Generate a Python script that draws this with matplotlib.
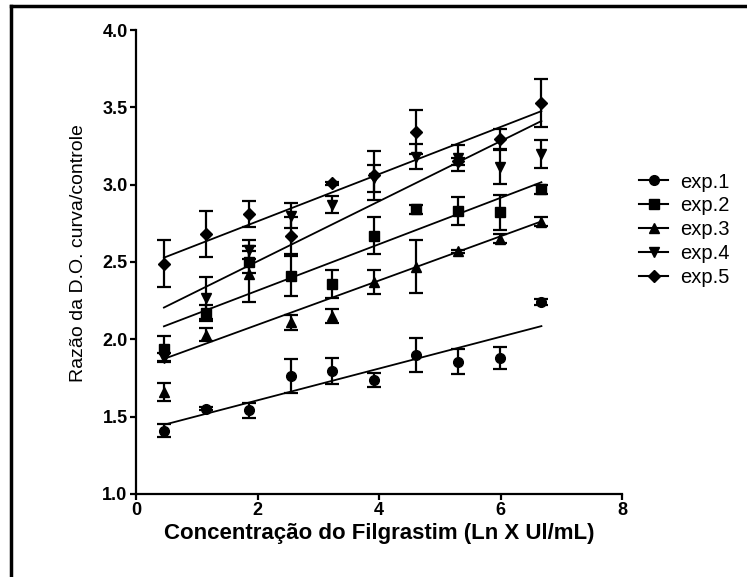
import numpy as np
import matplotlib
matplotlib.use('Agg')
import matplotlib.pyplot as plt
from matplotlib.lines import Line2D

# Ln of the filgrastim concentration
x_conc = [0.46, 1.15, 1.86, 2.55, 3.23, 3.92, 4.61, 5.30, 5.99, 6.67]

labels = ['exp.1', 'exp.2', 'exp.3', 'exp.4', 'exp.5']
markers = ['o', 's', '^', 'v', 'D']

exp1 = [1.41, 1.55, 1.54, 1.765, 1.795, 1.735, 1.90, 1.855, 1.88, 2.24]
exp1_err = [0.04, 0.01, 0.05, 0.11, 0.085, 0.045, 0.11, 0.08, 0.07, 0.02]
exp2 = [1.94, 2.17, 2.50, 2.41, 2.36, 2.67, 2.84, 2.83, 2.82, 2.97]
exp2_err = [0.08, 0.05, 0.07, 0.13, 0.09, 0.12, 0.03, 0.09, 0.115, 0.03]
exp3 = [1.66, 2.03, 2.42, 2.11, 2.15, 2.37, 2.47, 2.57, 2.65, 2.76]
exp3_err = [0.06, 0.04, 0.18, 0.05, 0.045, 0.08, 0.17, 0.01, 0.03, 0.03]
exp4 = [1.88, 2.265, 2.58, 2.80, 2.87, 3.04, 3.18, 3.17, 3.115, 3.20]
exp4_err = [0.03, 0.135, 0.06, 0.08, 0.055, 0.09, 0.08, 0.085, 0.11, 0.09]
exp5 = [2.49, 2.68, 2.81, 2.67, 3.01, 3.06, 3.34, 3.15, 3.295, 3.525]
exp5_err = [0.155, 0.15, 0.085, 0.12, 0.01, 0.16, 0.14, 0.02, 0.065, 0.155]

series = [exp1, exp2, exp3, exp4, exp5]
errors = [exp1_err, exp2_err, exp3_err, exp4_err, exp5_err]

plt.rcParams['font.family'] = ['Liberation Sans', 'DejaVu Sans']

fig = plt.figure(figsize=(7.47, 5.77), dpi=100)
ax = fig.add_axes([0.182, 0.144, 0.651, 0.804])

x = np.array(x_conc)
handles = []
for y, err, m, lab in zip(series, errors, markers, labels):
    ms = 6.5 if m == 'D' else 7
    ax.errorbar(x, y, yerr=err, fmt=m, color='black', ms=ms,
                elinewidth=1.6, capsize=5, capthick=1.6, zorder=3)
    # linear regression through the points
    slope, icept = np.polyfit(x, y, 1)
    xs = np.array([x.min(), x.max()])
    ax.plot(xs, slope * xs + icept, color='black', lw=1.3, zorder=2)
    handles.append(Line2D([0], [0], color='black', lw=1.5, marker=m,
                          ms=ms, label=lab))

ax.set_xlim(0, 8)
ax.set_ylim(1.0, 4.0)
ax.set_xticks([0, 2, 4, 6, 8])
ax.set_yticks([1.0, 1.5, 2.0, 2.5, 3.0, 3.5, 4.0])
ax.set_yticklabels(['1.0', '1.5', '2.0', '2.5', '3.0', '3.5', '4.0'])
for s in ['top', 'right']:
    ax.spines[s].set_visible(False)
for s in ['left', 'bottom']:
    ax.spines[s].set_linewidth(1.6)
ax.tick_params(direction='out', length=4.5, width=1.6, labelsize=13, pad=1.5)
for t in ax.get_xticklabels() + ax.get_yticklabels():
    t.set_fontweight('bold')

ax.set_xlabel('Concentração do Filgrastim (Ln X Ul/mL)', fontsize=16,
              fontweight='bold', labelpad=3)
ax.set_ylabel('Razão da D.O. curva/controle', fontsize=14)
ax.yaxis.set_label_coords(-0.10, 0.52)

fig.legend(handles=handles, loc='upper left', bbox_to_anchor=(0.845, 0.715),
           frameon=False, fontsize=14.5, handlelength=1.45, handletextpad=0.6,
           labelspacing=0.24, borderaxespad=0)

# partial black frame (top and left edges of the cropped figure)
fig.add_artist(Line2D([0.0147, 1.0], [0.9895, 0.9895], color='black', lw=2.5,
                      transform=fig.transFigure))
fig.add_artist(Line2D([0.0147, 0.0147], [0.0, 0.9895], color='black', lw=2.5,
                      transform=fig.transFigure))

fig.savefig('out.png', dpi=100)
